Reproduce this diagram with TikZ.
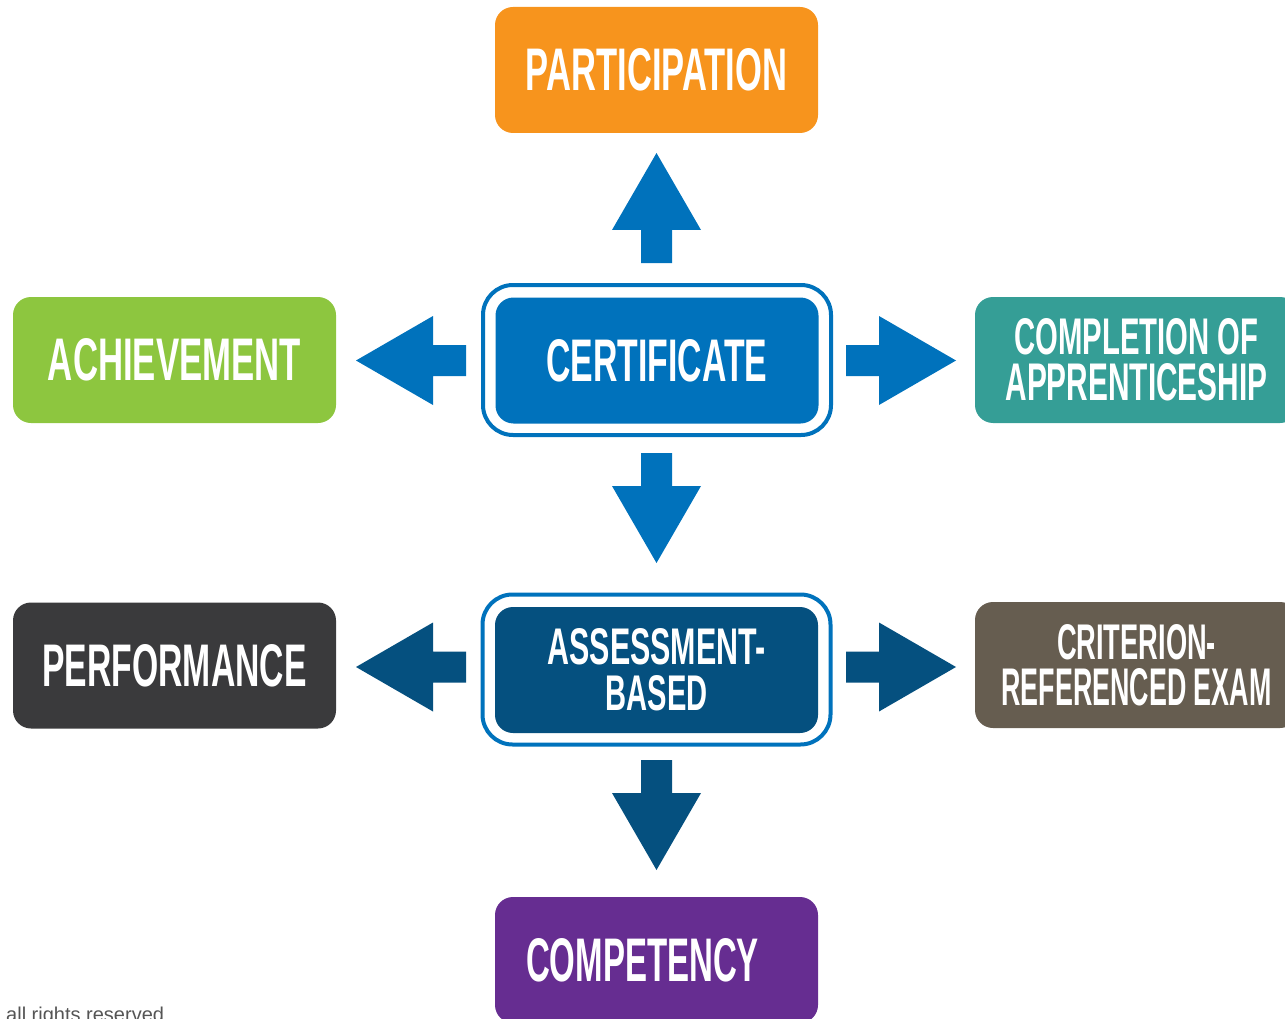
\documentclass[tikz,border=0pt]{standalone}
\usepackage{fontspec}
\setmainfont{Liberation Sans}
\usepackage{graphicx}
\definecolor{corange}{HTML}{F7941D}
\definecolor{cgreen}{HTML}{8DC63F}
\definecolor{cblue}{HTML}{0072BC}
\definecolor{cteal}{HTML}{359E96}
\definecolor{cdark}{HTML}{3A3A3C}
\definecolor{cnavy}{HTML}{05507F}
\definecolor{cbrown}{HTML}{665D50}
\definecolor{cpurple}{HTML}{662D91}
\definecolor{cnote}{HTML}{555555}
\newcommand\lab[3]{\resizebox{#1pt}{#2pt}{\bfseries #3}}
\begin{document}
\begin{tikzpicture}[x=1pt,y=-1pt,
  box/.style={rounded corners=18pt, minimum width=323pt, minimum height=126pt,
    inner sep=0pt, text=white, align=center, font=\fontsize{40}{46}\selectfont},
  ring/.style={draw=cblue, line width=4pt, rounded corners=30pt, fill=white,
    minimum width=348pt, minimum height=150pt, inner sep=0pt},
  blk/.style={fill=cblue},
  blkdark/.style={fill=cnavy}]
\useasboundingbox (0,0) rectangle (1285,1019);
\clip (0,0) rectangle (1285,1019);

% rings
\node[ring] (certring) at (657,360) {};
\node[ring] (assring) at (656.5,669.5) {};

% boxes
\node[box, fill=corange] (part) at (656.5,70) {\lab{261}{42}{PARTICIPATION}};
\node[box, fill=cgreen] (ach) at (174.5,360) {\lab{253}{42}{ACHIEVEMENT}};
\node[box, fill=cblue] (cert) at (657,360.5) {\lab{221}{42}{CERTIFICATE}};
\node[box, fill=cteal] (compl) at (1136.5,360) {\lab{244}{36}{COMPLETION OF}\\\lab{262}{37}{APPRENTICESHIP}};
\node[box, fill=cdark] (perf) at (174.5,665.5) {\lab{264}{42}{PERFORMANCE}};
\node[box, fill=cnavy] (ass) at (656.5,670) {\lab{218}{36}{ASSESSMENT-}\\\lab{102}{35}{BASED}};
\node[box, fill=cbrown] (crit) at (1136.5,665) {\lab{159}{35}{CRITERION-}\\\lab{270}{37}{REFERENCED EXAM}};
\node[box, fill=cpurple] (compet) at (656.5,960) {\lab{233}{43}{COMPETENCY}\hspace*{28pt}};

% block arrows (certificate)
\fill[blk] (641,263) -- (641,230) -- (612,230) -- (656.5,153) -- (701,230) -- (672,230) -- (672,263) -- cycle;
\fill[blk] (641,453) -- (641,486) -- (612,486) -- (656.5,563) -- (701,486) -- (672,486) -- (672,453) -- cycle;
\fill[blk] (466,345) -- (433,345) -- (433,316) -- (356,360.5) -- (433,405) -- (433,376) -- (466,376) -- cycle;
\fill[blk] (846,345) -- (879,345) -- (879,316) -- (956,360.5) -- (879,405) -- (879,376) -- (846,376) -- cycle;
% block arrows (assessment)
\fill[blkdark] (641,760) -- (641,793) -- (612,793) -- (656.5,870) -- (701,793) -- (672,793) -- (672,760) -- cycle;
\fill[blkdark] (466,651.5) -- (433,651.5) -- (433,622.5) -- (356,667) -- (433,711.5) -- (433,682.5) -- (466,682.5) -- cycle;
\fill[blkdark] (846,651.5) -- (879,651.5) -- (879,622.5) -- (956,667) -- (879,711.5) -- (879,682.5) -- (846,682.5) -- cycle;

% note
\node[anchor=base west, inner sep=0pt, text=cnote, font=\fontsize{20}{24}\selectfont] (note) at (6,1021) {all rights reserved};
\end{tikzpicture}
\end{document}
